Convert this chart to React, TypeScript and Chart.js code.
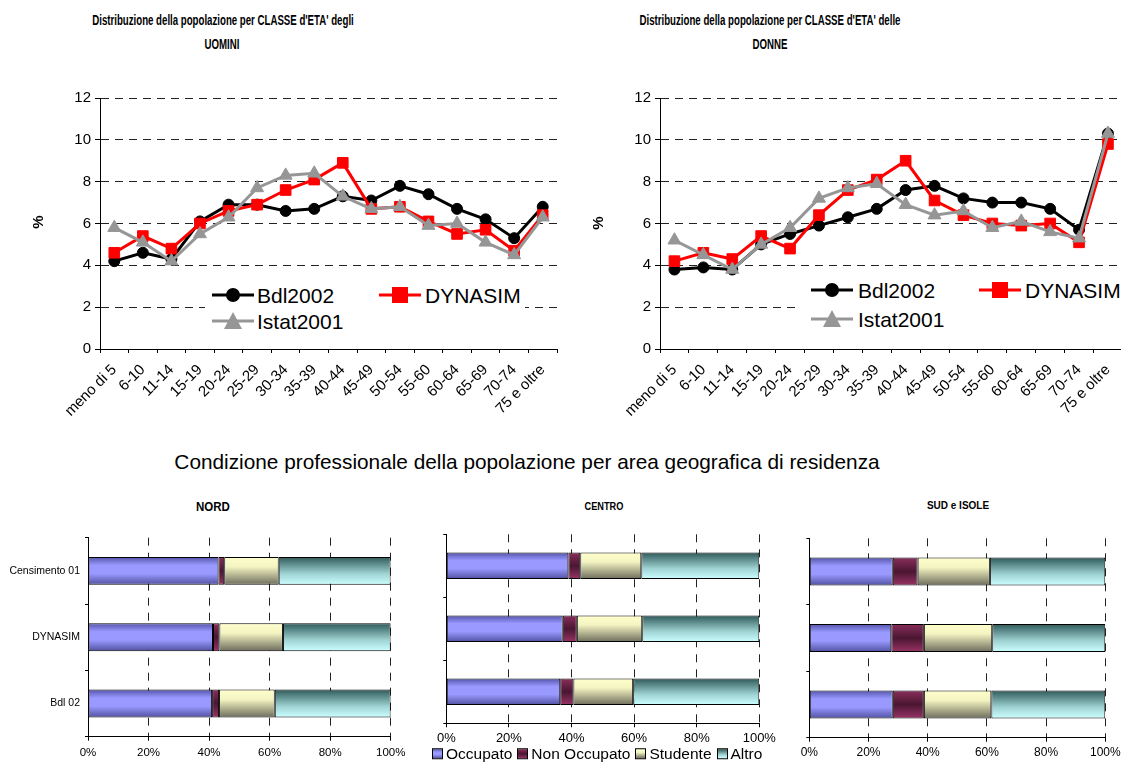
import React, { useEffect, useRef } from 'react';
import { Chart, registerables } from 'chart.js';

Chart.register(...registerables);

const FONT = '"Liberation Sans", Arial, Helvetica, sans-serif';
Chart.defaults.font.family = FONT;
Chart.defaults.color = '#000';

// ---------------- data ----------------
const ageClasses = ['meno di 5', '6-10', '11-14', '15-19', '20-24', '25-29', '30-34', '35-39', '40-44', '45-49', '50-54', '55-60', '60-64', '65-69', '70-74', '75 e oltre'];
const lineSeriesNames = ['Bdl2002', 'DYNASIM', 'Istat2001'];
const lineYTicks = [0, 2, 4, 6, 8, 10, 12];

const uominiBdl2002 = [4.2, 4.6, 4.3, 6.1, 6.9, 6.9, 6.6, 6.7, 7.3, 7.1, 7.8, 7.4, 6.7, 6.2, 5.3, 6.8];
const uominiDynasim = [4.6, 5.4, 4.8, 6.0, 6.6, 6.9, 7.6, 8.1, 8.9, 6.7, 6.8, 6.1, 5.5, 5.7, 4.7, 6.4];
const uominiIstat2001 = [5.8, 5.1, 4.2, 5.5, 6.3, 7.7, 8.3, 8.4, 7.3, 6.7, 6.8, 5.9, 6.0, 5.1, 4.5, 6.3];

const donneBdl2002 = [3.8, 3.9, 3.8, 5.0, 5.5, 5.9, 6.3, 6.7, 7.6, 7.8, 7.2, 7.0, 7.0, 6.7, 5.7, 10.3];
const donneDynasim = [4.2, 4.6, 4.3, 5.4, 4.8, 6.4, 7.6, 8.1, 9.0, 7.1, 6.4, 6.0, 5.9, 6.0, 5.1, 9.8];
const donneIstat2001 = [5.2, 4.5, 3.8, 5.0, 5.8, 7.2, 7.7, 7.9, 6.9, 6.4, 6.6, 5.8, 6.1, 5.6, 5.3, 10.3];

const barCategories = ['Censimento 01', 'DYNASIM', 'Bdl 02'];
const conditionNames = ['Occupato', 'Non Occupato', 'Studente', 'Altro'];
const barXTicks = [0, 20, 40, 60, 80, 100];

const nordOccupato = [43.1, 41.3, 41.0];
const nordNonOccupato = [1.9, 2.1, 2.3];
const nordStudente = [18.0, 21.0, 18.4];
const nordAltro = [37.0, 35.6, 38.3];

const centroOccupato = [39.0, 37.2, 36.4];
const centroNonOccupato = [3.8, 4.5, 4.2];
const centroStudente = [19.5, 20.9, 19.1];
const centroAltro = [37.7, 37.4, 40.3];

const sudOccupato = [28.2, 27.7, 28.2];
const sudNonOccupato = [8.4, 11.0, 10.5];
const sudStudente = [24.4, 23.1, 22.8];
const sudAltro = [39.0, 38.2, 38.5];

// ---------------- styles ----------------
const lineColors = ['#000000', '#ff0000', '#969696'];
const lineMarkers = ['circle', 'rect', 'triangle'];
const markerRadius = [5.5, 7.5, 7.5];

const conditionSolid = ['#9999ff', '#993366', '#ffffcc', '#ccffff'];
const conditionStops: [number, string][][] = [
  [[0, '#5454aa'], [0.3, '#9999ff'], [0.6, '#9999ff'], [1, '#5050a0']],
  [[0, '#8a2e5c'], [0.5, '#4a1631'], [1, '#993366']],
  [[0, '#ffffcc'], [0.35, '#f4f4c2'], [1, '#6c6c5c']],
  [[0, '#2e5959'], [0.6, '#9fd2d2'], [1, '#ccffff']],
];

type Box = { x: number; y: number; w: number; h: number };
type Area = { l: number; t: number; r: number; b: number };

function ChartCanvas({ box, makeConfig }: { box: Box; makeConfig: () => any }) {
  const ref = useRef<HTMLCanvasElement>(null);
  useEffect(() => {
    const chart = new Chart(ref.current as HTMLCanvasElement, makeConfig());
    return () => chart.destroy();
  }, []);
  return (
    <canvas
      ref={ref}
      width={box.w}
      height={box.h}
      style={{ position: 'absolute', left: box.x, top: box.y, width: box.w, height: box.h }}
    />
  );
}

function lineConfig(box: Box, area: Area, series: number[][]) {
  return {
    type: 'line',
    data: {
      labels: ageClasses,
      datasets: series.map((d, i) => ({
        label: lineSeriesNames[i],
        data: d,
        borderColor: lineColors[i],
        backgroundColor: lineColors[i],
        pointBackgroundColor: lineColors[i],
        pointBorderColor: lineColors[i],
        pointBorderWidth: 1,
        borderWidth: 3,
        pointStyle: lineMarkers[i],
        pointRadius: markerRadius[i],
        tension: 0,
        order: 3 - i,
      })),
    },
    options: {
      responsive: false,
      animation: false,
      events: [],
      layout: { padding: { left: 0, top: area.t - box.y, right: box.x + box.w - area.r, bottom: 0 } },
      plugins: { legend: { display: false }, title: { display: false }, tooltip: { enabled: false } },
      scales: {
        x: {
          type: 'category',
          offset: true,
          grid: { offset: true, drawOnChartArea: false, drawTicks: true, tickLength: 4, tickColor: '#000', color: '#000' },
          border: { display: true, color: '#000', width: 1 },
          ticks: { autoSkip: false, maxRotation: 45, minRotation: 45, font: { size: 15 }, color: '#000', padding: 8 },
          afterFit: (s: any) => {
            s.height = box.y + box.h - area.b;
            s.paddingLeft = 0;
            s.paddingRight = 0;
          },
        },
        y: {
          type: 'linear',
          min: lineYTicks[0],
          max: lineYTicks[lineYTicks.length - 1],
          ticks: { stepSize: lineYTicks[1] - lineYTicks[0], font: { size: 15 }, color: '#000', padding: 4 },
          grid: { color: '#222', lineWidth: 1, drawTicks: true, tickLength: 5, tickColor: '#000' },
          border: { display: true, color: '#000', width: 1, dash: [8, 6] },
          afterFit: (s: any) => {
            s.width = area.l - box.x;
            s.paddingTop = 0;
            s.paddingBottom = 0;
          },
        },
      },
    },
  };
}

const BAR_PCT = 0.42;

function gradientFill(stops: [number, string][], fallback: string) {
  return (c: any) => {
    const chart = c.chart;
    const ys = chart && chart.scales ? chart.scales.y : null;
    if (!ys || !chart.chartArea || c.dataIndex == null) return fallback;
    const center = ys.getPixelForValue(c.dataIndex);
    const half = ((ys.bottom - ys.top) / barCategories.length) * BAR_PCT / 2;
    if (!isFinite(center) || !isFinite(half) || half <= 0) return fallback;
    const g = chart.ctx.createLinearGradient(0, center - half, 0, center + half);
    stops.forEach(([o, col]) => g.addColorStop(o, col));
    return g;
  };
}

function barConfig(box: Box, area: Area, series: number[][], showY: boolean, xFont: number, xPad: number) {
  return {
    type: 'bar',
    data: {
      labels: barCategories,
      datasets: series.map((d, i) => ({
        label: conditionNames[i],
        data: d,
        backgroundColor: gradientFill(conditionStops[i], conditionSolid[i]),
        borderColor: '#000',
        borderWidth: 1,
        borderSkipped: false,
        barPercentage: BAR_PCT,
        categoryPercentage: 1,
      })),
    },
    options: {
      indexAxis: 'y',
      responsive: false,
      animation: false,
      events: [],
      layout: { padding: { left: 0, top: area.t - box.y, right: box.x + box.w - area.r, bottom: 0 } },
      plugins: { legend: { display: false }, title: { display: false }, tooltip: { enabled: false } },
      scales: {
        x: {
          type: 'linear',
          stacked: true,
          min: barXTicks[0],
          max: barXTicks[barXTicks.length - 1],
          ticks: {
            stepSize: barXTicks[1] - barXTicks[0],
            callback: (v: any) => v + '%',
            font: { size: xFont },
            color: '#000',
            padding: xPad,
          },
          grid: { color: '#222', lineWidth: 1, drawTicks: true, tickLength: 4, tickColor: '#000' },
          border: { display: true, color: '#000', width: 1, dash: [8, 7] },
          afterFit: (s: any) => {
            s.height = box.y + box.h - area.b;
            s.paddingLeft = 0;
            s.paddingRight = 0;
          },
        },
        y: {
          type: 'category',
          stacked: true,
          grid: { offset: true, drawOnChartArea: false, drawTicks: true, tickLength: 3, tickColor: '#000' },
          border: { display: true, color: '#000', width: 1 },
          ticks: { display: showY, font: { size: 10.5 }, color: '#000', padding: 5 },
          afterFit: (s: any) => {
            s.width = area.l - box.x;
            s.paddingTop = 0;
            s.paddingBottom = 0;
          },
        },
      },
    },
  };
}

function Text({ x, y, text, size, bold, sx = 1, rotate = 0 }: any) {
  return (
    <div
      style={{
        position: 'absolute',
        left: x,
        top: y,
        transform: `translate(-50%, -50%) rotate(${rotate}deg) scaleX(${sx})`,
        whiteSpace: 'nowrap',
        fontFamily: FONT,
        fontSize: size,
        fontWeight: bold ? 'bold' : 'normal',
        lineHeight: 1,
        color: '#000',
      }}
    >
      {text}
    </div>
  );
}

function Marker({ kind, color }: { kind: string; color: string }) {
  return (
    <svg width={42} height={20} style={{ position: 'absolute', left: 0, top: -10 }}>
      <line x1={0} y1={10} x2={42} y2={10} stroke={color} strokeWidth={3} />
      {kind === 'circle' && <circle cx={21} cy={10} r={7} fill={color} />}
      {kind === 'rect' && <rect x={13} y={2} width={16} height={16} fill={color} />}
      {kind === 'triangle' && <polygon points="21,1 30,18 12,18" fill={color} />}
    </svg>
  );
}

function LineLegend({ box, items }: { box: Box; items: { x: number; y: number; tx: number }[] }) {
  return (
    <div style={{ position: 'absolute', left: box.x, top: box.y, width: box.w, height: box.h, background: '#fff' }}>
      {items.map((it, i) => (
        <div key={i}>
          <div style={{ position: 'absolute', left: it.x - box.x, top: it.y - box.y, width: 42, height: 0 }}>
            <Marker kind={lineMarkers[i]} color={lineColors[i]} />
          </div>
          <div
            style={{
              position: 'absolute',
              left: it.tx - box.x,
              top: it.y - box.y,
              transform: 'translateY(-50%)',
              fontFamily: FONT,
              fontSize: 21,
              lineHeight: 1,
              whiteSpace: 'nowrap',
              color: '#000',
            }}
          >
            {lineSeriesNames[i]}
          </div>
        </div>
      ))}
    </div>
  );
}

function BarLegend({ x, y }: { x: number; y: number }) {
  return (
    <div
      style={{
        position: 'absolute',
        left: x,
        top: y,
        transform: 'translateY(-50%)',
        display: 'flex',
        alignItems: 'center',
        fontFamily: FONT,
        fontSize: 15.5,
        lineHeight: 1,
        whiteSpace: 'nowrap',
        color: '#000',
      }}
    >
      {conditionNames.map((n, i) => (
        <div key={n} style={{ display: 'flex', alignItems: 'center', marginRight: 5 }}>
          <div
            style={{
              width: 9,
              height: 9,
              border: '1px solid #000',
              background: `linear-gradient(${conditionStops[i].map(([o, c]) => `${c} ${o * 100}%`).join(', ')})`,
              marginRight: 3,
            }}
          />
          <span>{n}</span>
        </div>
      ))}
    </div>
  );
}

export default function App() {
  const uBox: Box = { x: 0, y: 80, w: 570, h: 360 };
  const uArea: Area = { l: 100, t: 98, r: 557, b: 349 };
  const dBox: Box = { x: 560, y: 80, w: 575, h: 360 };
  const dArea: Area = { l: 660, t: 98, r: 1122.4, b: 349 };

  const nBox: Box = { x: 0, y: 520, w: 410, h: 243 };
  const nArea: Area = { l: 88, t: 537.7, r: 390.7, b: 736.7 };
  const cBox: Box = { x: 420, y: 520, w: 360, h: 226 };
  const cArea: Area = { l: 446.3, t: 534.3, r: 759.3, b: 723.3 };
  const sBox: Box = { x: 785, y: 520, w: 336, h: 243 };
  const sArea: Area = { l: 809.3, t: 538.3, r: 1105.3, b: 737.7 };

  return (
    <div
      style={{
        position: 'fixed',
        left: 0,
        top: 0,
        width: 1121,
        height: 763,
        overflow: 'hidden',
        background: '#fff',
        fontFamily: FONT,
      }}
    >
      <Text x={223} y={20} text="Distribuzione della popolazione per CLASSE d'ETA' degli" size={14} bold sx={0.69} />
      <Text x={222} y={44} text="UOMINI" size={14} bold sx={0.69} />
      <Text x={770} y={20} text="Distribuzione della popolazione per CLASSE d'ETA' delle" size={14} bold sx={0.69} />
      <Text x={770} y={44} text="DONNE" size={14} bold sx={0.69} />

      <ChartCanvas box={uBox} makeConfig={() => lineConfig(uBox, uArea, [uominiBdl2002, uominiDynasim, uominiIstat2001])} />
      <ChartCanvas box={dBox} makeConfig={() => lineConfig(dBox, dArea, [donneBdl2002, donneDynasim, donneIstat2001])} />

      <Text x={37} y={222} text="%" size={15} bold rotate={-90} />
      <Text x={597} y={223} text="%" size={15} bold rotate={-90} />

      <LineLegend
        box={{ x: 205, y: 278, w: 320, h: 57 }}
        items={[
          { x: 212, y: 295, tx: 257 },
          { x: 379, y: 295, tx: 425 },
          { x: 212, y: 321, tx: 257 },
        ]}
      />
      <LineLegend
        box={{ x: 800, y: 276, w: 330, h: 58 }}
        items={[
          { x: 811, y: 290, tx: 858 },
          { x: 979, y: 290, tx: 1025 },
          { x: 811, y: 319, tx: 858 },
        ]}
      />

      <Text x={527} y={462} text="Condizione professionale della popolazione per area geografica di residenza" size={20.8} />

      <Text x={213} y={507} text="NORD" size={12.5} bold sx={0.92} />
      <Text x={604} y={507} text="CENTRO" size={10} bold sx={0.92} />
      <Text x={958} y={505} text="SUD e ISOLE" size={10.5} bold sx={0.95} />

      <ChartCanvas
        box={nBox}
        makeConfig={() => barConfig(nBox, nArea, [nordOccupato, nordNonOccupato, nordStudente, nordAltro], true, 11.5, 5)}
      />
      <ChartCanvas
        box={cBox}
        makeConfig={() => barConfig(cBox, cArea, [centroOccupato, centroNonOccupato, centroStudente, centroAltro], false, 13, 3)}
      />
      <ChartCanvas
        box={sBox}
        makeConfig={() => barConfig(sBox, sArea, [sudOccupato, sudNonOccupato, sudStudente, sudAltro], false, 12, 4)}
      />

      <BarLegend x={432} y={754} />
    </div>
  );
}
